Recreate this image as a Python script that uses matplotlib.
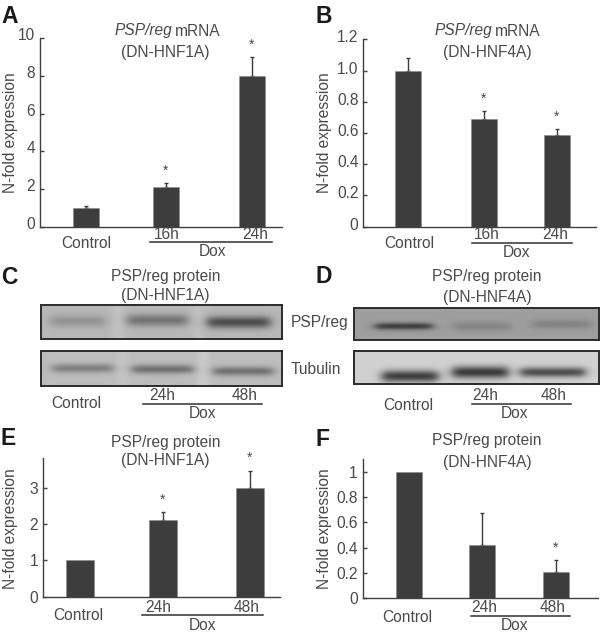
#! /usr/bin/env python
# -*- coding: utf8 -*-

import numpy as np
import matplotlib.pyplot as plt
from matplotlib.transforms import ScaledTranslation

plt.rcParams['font.family'] = ['Liberation Sans', 'DejaVu Sans']

W, H = 600, 633
TXT = '#4a4a4a'
BAR = '#3d3d3d'
FS = 11.2
FS_LETTER = 16.5

# values
labels_a = ['Control', '16h', '24h']
labels_c = ['Control', '24h', '48h']
vals_a = [1.0, 2.1, 8.0]
errs_a = [0.1, 0.2, 1.0]
stars_a = [False, True, True]
vals_b = [1.0, 0.69, 0.59]
errs_b = [0.08, 0.05, 0.035]
stars_b = [False, True, True]
vals_e = [1.0, 2.1, 3.0]
errs_e = [0.0, 0.22, 0.47]
stars_e = [False, True, True]
vals_f = [1.0, 0.42, 0.21]
errs_f = [0.0, 0.25, 0.09]
stars_f = [False, False, True]
ticks_a = [0, 2, 4, 6, 8, 10]
ticks_b = [0, 0.2, 0.4, 0.6, 0.8, 1.0, 1.2]
ticks_b_txt = ['0', '0.2', '0.4', '0.6', '0.8', '1.0', '1.2']
ticks_e = [0, 1, 2, 3]
ticks_f = [0, 0.2, 0.4, 0.6, 0.8, 1]
ticks_f_txt = ['0', '0.2', '0.4', '0.6', '0.8', '1']

fig = plt.figure(figsize=(W / 100, H / 100), dpi=100, facecolor='white')


def txt(x, y, s, **kw):
    """Text placed with pixel coordinates of the image."""
    kw.setdefault('fontsize', FS)
    kw.setdefault('color', TXT)
    kw.setdefault('ha', 'center')
    kw.setdefault('va', 'center')
    return fig.text(x / W, 1 - (y + 1) / H, s, **kw)


def letter(x, y, s):
    txt(x, y + 1.5, s, fontsize=FS_LETTER, fontweight='bold', color='#1a1a1a', ha='left')


def panel_axes(left, right, top, base):
    return fig.add_axes([left / W, 1 - base / H, (right - left) / W, (base - top) / H])


def bars(box, ylim, centres, vals, errs, stars, ticks, ticklabels=None, width=26, lift=0):
    left, right, top, base = box
    ax = panel_axes(left, right, top, base)
    ax.set_xlim(left, right)
    ax.set_ylim(*ylim)
    ax.bar(centres, vals, width=width, color=BAR, edgecolor='#8a8a8a', linewidth=0.4, zorder=2)
    for x, v, e, s in zip(centres, vals, errs, stars):
        if e > 0:
            ax.errorbar(x, v, yerr=[[0], [e]], color=BAR, elinewidth=1, capsize=1.6,
                        capthick=1, zorder=1)
        if s:
            ax.annotate('*', (x, v + e), xytext=(0, 4), textcoords='offset points',
                        ha='center', va='bottom', fontsize=10, color=TXT)
    for sp in ['top', 'right']:
        ax.spines[sp].set_visible(False)
    for sp in ['left', 'bottom']:
        ax.spines[sp].set_color('#404040')
        ax.spines[sp].set_linewidth(1)
    ax.set_xticks([])
    ax.set_yticks(ticks)
    if ticklabels is not None:
        ax.set_yticklabels(ticklabels)
    ax.tick_params(axis='y', direction='in', length=3, width=1, color='#404040',
                   labelsize=FS, labelcolor=TXT, pad=3.5)
    # tick labels in the top panels sit a little above their ticks
    shift = ScaledTranslation(0, lift / 100, fig.dpi_scale_trans)
    for lbl in ax.get_yticklabels():
        lbl.set_transform(lbl.get_transform() + shift)
    ax.patch.set_alpha(0)
    return ax


def xlabels(ctrl, t1, t2, line, dox):
    txt(ctrl[0], ctrl[1], 'Control')
    txt(t1[0], t1[1] - 1.5, t1[2])
    txt(t2[0], t2[1] - 1.5, t2[2])
    fig.add_artist(plt.Line2D([line[0] / W, line[1] / W], [1 - line[2] / H] * 2,
                              color='#303030', lw=1.1))
    txt(dox[0], dox[1], 'Dox')


def blot(box, bg, bands, gaps=()):
    """Western blot strip: grey background with soft dark bands."""
    left, right, top, base = box
    ax = panel_axes(left, right, top, base)
    xx, yy = np.meshgrid(np.arange(left, right, 0.5), np.arange(top, base, 0.5))
    img = np.full(xx.shape, bg, dtype=float)
    for x0, x1, yc, thick, dark in bands:
        prof = 0.5 * (np.tanh((xx - x0) / 6) - np.tanh((xx - x1) / 6))
        img -= dark * prof * np.exp(-((yy - yc) / thick) ** 2)
    for xc, amount in gaps:
        img += amount * np.exp(-((xx - xc) / 7) ** 2)
    ax.imshow(np.clip(img, 0, 1), cmap='gray', vmin=0, vmax=1, aspect='auto',
              extent=(left, right, base, top), interpolation='bilinear')
    ax.set_xticks([])
    ax.set_yticks([])
    for sp in ax.spines.values():
        sp.set_color('#2b2b2b')
        sp.set_linewidth(1.4)


# A
bars((40, 282, 38.3, 226.7), (0, 10), [86, 166, 252], vals_a, errs_a, stars_a, ticks_a, lift=4)
letter(1, 14, 'A')
txt(172, 30, 'PSP/reg', style='italic', ha='right')
txt(175, 30, 'mRNA', ha='left')
txt(165, 51, '(DN-HNF1A)')
txt(10.5, 132, 'N-fold expression', rotation=90)
xlabels((86, 242), (167, 235, labels_a[1]), (255, 235, labels_a[2]), (150, 272, 242), (212, 251))

# B
bars((363.3, 596, 39.3, 226.7), (0, 1.2), [408, 484, 557], vals_b, errs_b, stars_b, ticks_b, ticks_b_txt, lift=3)
letter(316, 14, 'B')
txt(492, 30, 'PSP/reg', style='italic', ha='right')
txt(495, 30, 'mRNA', ha='left')
txt(487, 52, '(DN-HNF4A)')
txt(324.5, 132, 'N-fold expression', rotation=90)
xlabels((409, 243), (487, 235, labels_a[1]), (555, 235, labels_a[2]), (472, 572, 243), (516, 252))

# C
blot((41, 282, 305, 339), 0.72,
     [(50, 105, 321, 6, 0.14), (127, 187, 320, 6, 0.27), (207, 270, 322, 6, 0.42)],
     [(118, 0.04), (198, 0.03)])
blot((41, 282, 351, 386), 0.74,
     [(52, 113, 368, 4.5, 0.24), (132, 193, 369, 4.5, 0.3), (213, 273, 371, 4.5, 0.3)],
     [(122, 0.03), (203, 0.05)])
letter(1, 275, 'C')
txt(166, 276, 'PSP/reg protein')
txt(165, 294.5, '(DN-HNF1A)')
txt(291, 321, 'PSP/reg', ha='left')
txt(291, 368, 'Tubulin', ha='left')
xlabels((76, 403), (162, 396, labels_c[1]), (245, 396, labels_c[2]), (143, 262, 404), (202, 412))

# D
blot((354, 599, 308, 340), 0.62,
     [(375, 432, 326, 3.5, 0.38), (453, 510, 326, 4.5, 0.1), (532, 590, 324, 4.5, 0.11)])
blot((354, 599, 351, 384), 0.82,
     [(382, 438, 376, 6, 0.58), (452, 508, 372, 6, 0.6), (520, 585, 372, 5, 0.52)])
letter(316, 274, 'D')
txt(487, 276, 'PSP/reg protein')
txt(487, 296, '(DN-HNF4A)')
xlabels((408, 405), (485, 396, labels_c[1]), (554, 396, labels_c[2]), (472, 571, 404), (515, 412))

# E
bars((43, 280, 458, 596.7), (0, 3.82), [80, 163, 250], vals_e, errs_e, stars_e, ticks_e, width=28)
letter(1, 436, 'E')
txt(166, 441, 'PSP/reg protein')
txt(165, 460, '(DN-HNF1A)')
txt(10.5, 528, 'N-fold expression', rotation=90)
xlabels((78, 615), (158, 608, labels_c[1]), (247, 608, labels_c[2]), (142, 263, 615), (203, 624))

# F
bars((362.7, 597.7, 459.3, 598.3), (0, 1.098), [409, 481.7, 555.7], vals_f, errs_f, stars_f, ticks_f, ticks_f_txt)
letter(316, 437, 'F')
txt(487, 440, 'PSP/reg protein')
txt(487, 462, '(DN-HNF4A)')
txt(324.5, 528, 'N-fold expression', rotation=90)
xlabels((407, 617), (484, 608, labels_c[1]), (553, 608, labels_c[2]), (471, 570, 616), (514, 624))

plt.savefig('out.png', dpi=100)
